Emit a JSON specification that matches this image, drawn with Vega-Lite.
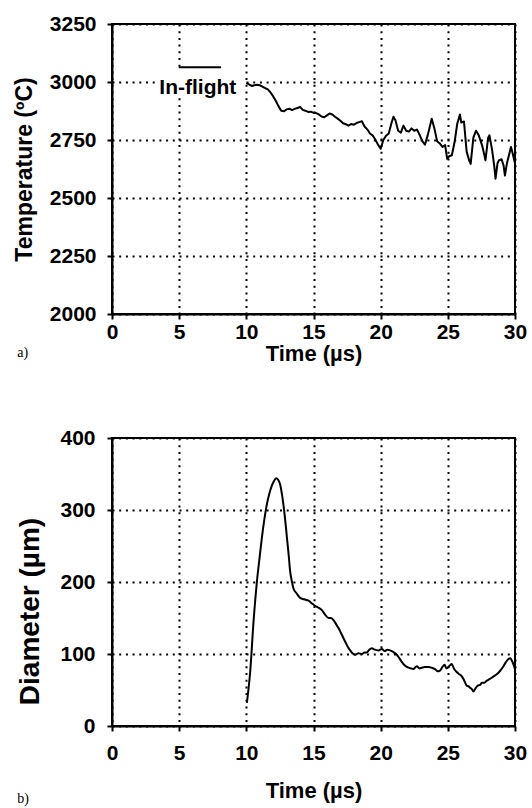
{
  "$schema": "https://vega.github.io/schema/vega-lite/v6.json",
  "background": "white",
  "padding": {"left": 12, "top": 12, "right": 4, "bottom": 0},
  "spacing": 61,
  "config": {
    "view": {"stroke": "black", "strokeWidth": 2},
    "font": "Liberation Sans",
    "axis": {
      "domainColor": "black",
      "domainWidth": 2,
      "tickColor": "black",
      "tickWidth": 2,
      "tickSize": 5,
      "labelFont": "Liberation Sans",
      "labelFontWeight": "bold",
      "labelFontSize": 21,
      "labelColor": "black",
      "labelFlush": false,
      "labelOverlap": false,
      "format": "d",
      "titleFont": "Liberation Sans",
      "titleFontWeight": "bold",
      "titleColor": "black",
      "gridColor": "black",
      "gridWidth": 2,
      "gridDash": [2, 4.7],
      "gridOpacity": 1
    }
  },
  "datasets": {
    "temperature": [
      {"time": 10.0, "temperature": 2995}, {"time": 10.2, "temperature": 2990}, {"time": 10.4, "temperature": 2983},
      {"time": 10.6, "temperature": 2986}, {"time": 10.8, "temperature": 2988}, {"time": 11.0, "temperature": 2986},
      {"time": 11.2, "temperature": 2980}, {"time": 11.4, "temperature": 2974}, {"time": 11.6, "temperature": 2968},
      {"time": 11.8, "temperature": 2955}, {"time": 12.0, "temperature": 2938}, {"time": 12.2, "temperature": 2918},
      {"time": 12.4, "temperature": 2895}, {"time": 12.6, "temperature": 2876}, {"time": 12.8, "temperature": 2874},
      {"time": 13.0, "temperature": 2882}, {"time": 13.2, "temperature": 2885}, {"time": 13.4, "temperature": 2879},
      {"time": 13.6, "temperature": 2884}, {"time": 13.8, "temperature": 2888}, {"time": 14.0, "temperature": 2892},
      {"time": 14.2, "temperature": 2880}, {"time": 14.4, "temperature": 2876}, {"time": 14.6, "temperature": 2871},
      {"time": 14.8, "temperature": 2872}, {"time": 15.0, "temperature": 2867}, {"time": 15.2, "temperature": 2866},
      {"time": 15.4, "temperature": 2860}, {"time": 15.6, "temperature": 2851}, {"time": 15.8, "temperature": 2848},
      {"time": 16.0, "temperature": 2856}, {"time": 16.2, "temperature": 2864}, {"time": 16.4, "temperature": 2860},
      {"time": 16.6, "temperature": 2850}, {"time": 16.8, "temperature": 2842}, {"time": 17.0, "temperature": 2833},
      {"time": 17.2, "temperature": 2822}, {"time": 17.4, "temperature": 2818}, {"time": 17.6, "temperature": 2812},
      {"time": 17.8, "temperature": 2819}, {"time": 18.0, "temperature": 2816}, {"time": 18.2, "temperature": 2823},
      {"time": 18.4, "temperature": 2827}, {"time": 18.6, "temperature": 2831}, {"time": 18.8, "temperature": 2808},
      {"time": 19.0, "temperature": 2796}, {"time": 19.2, "temperature": 2778}, {"time": 19.4, "temperature": 2770},
      {"time": 19.6, "temperature": 2752}, {"time": 19.8, "temperature": 2730}, {"time": 20.0, "temperature": 2712},
      {"time": 20.2, "temperature": 2750}, {"time": 20.4, "temperature": 2768}, {"time": 20.6, "temperature": 2778},
      {"time": 20.8, "temperature": 2822}, {"time": 20.95, "temperature": 2850}, {"time": 21.1, "temperature": 2835},
      {"time": 21.3, "temperature": 2790}, {"time": 21.5, "temperature": 2782}, {"time": 21.7, "temperature": 2812},
      {"time": 21.9, "temperature": 2790}, {"time": 22.1, "temperature": 2786}, {"time": 22.3, "temperature": 2800},
      {"time": 22.5, "temperature": 2790}, {"time": 22.7, "temperature": 2795}, {"time": 22.9, "temperature": 2772},
      {"time": 23.1, "temperature": 2745}, {"time": 23.3, "temperature": 2730}, {"time": 23.5, "temperature": 2770},
      {"time": 23.8, "temperature": 2842}, {"time": 24.0, "temperature": 2800}, {"time": 24.2, "temperature": 2745},
      {"time": 24.4, "temperature": 2735}, {"time": 24.6, "temperature": 2720}, {"time": 24.8, "temperature": 2728},
      {"time": 24.95, "temperature": 2669}, {"time": 25.1, "temperature": 2680}, {"time": 25.3, "temperature": 2684},
      {"time": 25.5, "temperature": 2740}, {"time": 25.7, "temperature": 2820}, {"time": 25.9, "temperature": 2860},
      {"time": 26.0, "temperature": 2825}, {"time": 26.2, "temperature": 2830}, {"time": 26.4, "temperature": 2700},
      {"time": 26.6, "temperature": 2660}, {"time": 26.7, "temperature": 2647}, {"time": 26.9, "temperature": 2760},
      {"time": 27.1, "temperature": 2790}, {"time": 27.3, "temperature": 2770}, {"time": 27.55, "temperature": 2727},
      {"time": 27.7, "temperature": 2690}, {"time": 27.8, "temperature": 2662}, {"time": 28.0, "temperature": 2760},
      {"time": 28.1, "temperature": 2770}, {"time": 28.3, "temperature": 2705}, {"time": 28.45, "temperature": 2640},
      {"time": 28.55, "temperature": 2583}, {"time": 28.7, "temperature": 2650}, {"time": 28.8, "temperature": 2662},
      {"time": 29.0, "temperature": 2667}, {"time": 29.15, "temperature": 2640}, {"time": 29.25, "temperature": 2597},
      {"time": 29.4, "temperature": 2650}, {"time": 29.55, "temperature": 2684}, {"time": 29.7, "temperature": 2720},
      {"time": 29.8, "temperature": 2698}, {"time": 30.0, "temperature": 2650}
    ],
    "diameter": [
      {"time": 10.04, "diameter": 32}, {"time": 10.29, "diameter": 76}, {"time": 10.54, "diameter": 146},
      {"time": 10.79, "diameter": 201}, {"time": 11.0, "diameter": 236}, {"time": 11.16, "diameter": 262},
      {"time": 11.35, "diameter": 288}, {"time": 11.53, "diameter": 308}, {"time": 11.7, "diameter": 322},
      {"time": 11.9, "diameter": 334}, {"time": 12.05, "diameter": 340}, {"time": 12.22, "diameter": 344},
      {"time": 12.4, "diameter": 341}, {"time": 12.52, "diameter": 335}, {"time": 12.65, "diameter": 322},
      {"time": 12.77, "diameter": 306}, {"time": 12.9, "diameter": 285}, {"time": 13.02, "diameter": 262},
      {"time": 13.15, "diameter": 238}, {"time": 13.26, "diameter": 215}, {"time": 13.4, "diameter": 200},
      {"time": 13.51, "diameter": 191}, {"time": 13.75, "diameter": 184}, {"time": 14.01, "diameter": 178},
      {"time": 14.3, "diameter": 176}, {"time": 14.63, "diameter": 174}, {"time": 14.9, "diameter": 170},
      {"time": 15.12, "diameter": 167}, {"time": 15.4, "diameter": 164}, {"time": 15.62, "diameter": 161},
      {"time": 15.85, "diameter": 155}, {"time": 16.12, "diameter": 150}, {"time": 16.3, "diameter": 150},
      {"time": 16.49, "diameter": 147}, {"time": 16.7, "diameter": 141}, {"time": 16.86, "diameter": 136},
      {"time": 17.1, "diameter": 127}, {"time": 17.36, "diameter": 117}, {"time": 17.55, "diameter": 110},
      {"time": 17.73, "diameter": 105}, {"time": 17.9, "diameter": 101}, {"time": 18.1, "diameter": 99},
      {"time": 18.35, "diameter": 101}, {"time": 18.6, "diameter": 100}, {"time": 18.8, "diameter": 102},
      {"time": 18.97, "diameter": 102}, {"time": 19.15, "diameter": 106}, {"time": 19.34, "diameter": 108},
      {"time": 19.55, "diameter": 106}, {"time": 19.84, "diameter": 105}, {"time": 20.09, "diameter": 107},
      {"time": 20.3, "diameter": 104}, {"time": 20.5, "diameter": 106}, {"time": 20.83, "diameter": 104},
      {"time": 21.0, "diameter": 102}, {"time": 21.2, "diameter": 99}, {"time": 21.4, "diameter": 94},
      {"time": 21.57, "diameter": 89}, {"time": 21.8, "diameter": 84}, {"time": 22.07, "diameter": 81},
      {"time": 22.25, "diameter": 80}, {"time": 22.44, "diameter": 79}, {"time": 22.6, "diameter": 82},
      {"time": 22.69, "diameter": 83}, {"time": 22.9, "diameter": 80}, {"time": 23.06, "diameter": 81},
      {"time": 23.3, "diameter": 82}, {"time": 23.56, "diameter": 82}, {"time": 23.8, "diameter": 81},
      {"time": 24.05, "diameter": 79}, {"time": 24.25, "diameter": 76}, {"time": 24.42, "diameter": 77},
      {"time": 24.6, "diameter": 82}, {"time": 24.75, "diameter": 85}, {"time": 24.9, "diameter": 80},
      {"time": 25.05, "diameter": 82}, {"time": 25.2, "diameter": 85}, {"time": 25.29, "diameter": 86},
      {"time": 25.45, "diameter": 80}, {"time": 25.66, "diameter": 75}, {"time": 25.85, "diameter": 72},
      {"time": 26.04, "diameter": 69}, {"time": 26.2, "diameter": 64}, {"time": 26.41, "diameter": 56},
      {"time": 26.55, "diameter": 55}, {"time": 26.66, "diameter": 53}, {"time": 26.8, "diameter": 51},
      {"time": 26.9, "diameter": 48}, {"time": 27.05, "diameter": 52}, {"time": 27.23, "diameter": 56},
      {"time": 27.4, "diameter": 57}, {"time": 27.52, "diameter": 60}, {"time": 27.7, "diameter": 60},
      {"time": 27.9, "diameter": 63}, {"time": 28.1, "diameter": 65}, {"time": 28.27, "diameter": 67},
      {"time": 28.5, "diameter": 70}, {"time": 28.77, "diameter": 74}, {"time": 28.95, "diameter": 78},
      {"time": 29.14, "diameter": 83}, {"time": 29.3, "diameter": 88}, {"time": 29.51, "diameter": 93},
      {"time": 29.65, "diameter": 94}, {"time": 29.76, "diameter": 91}, {"time": 29.9, "diameter": 85},
      {"time": 30.0, "diameter": 79}
    ]
  },
  "vconcat": [
    {
      "width": 403,
      "height": 290,
      "encoding": {
        "x": {
          "type": "quantitative",
          "scale": {"domain": [0, 30]},
          "axis": {
            "values": [0, 5, 10, 15, 20, 25, 30],
            "title": "Time (µs)",
            "titleFontSize": 22,
            "labelPadding": 2,
            "titlePadding": 1
          }
        },
        "y": {
          "type": "quantitative",
          "scale": {"domain": [2000, 3250]},
          "axis": {
            "values": [2000, 2250, 2500, 2750, 3000, 3250],
            "title": "Temperature (ºC)",
            "titleFontSize": 23,
            "labelPadding": 11,
            "titlePadding": 13
          }
        }
      },
      "layer": [
        {
          "data": {"values": [{"t0": 3.3, "t1": 9.75, "lo": 2932, "hi": 3050}]},
          "mark": {"type": "rect", "fill": "white"},
          "encoding": {
            "x": {"field": "t0"}, "x2": {"field": "t1"},
            "y": {"field": "lo"}, "y2": {"field": "hi"}
          }
        },
        {
          "data": {"name": "temperature"},
          "mark": {"type": "line", "color": "black", "strokeWidth": 2, "strokeJoin": "round"},
          "encoding": {"x": {"field": "time"}, "y": {"field": "temperature"}}
        },
        {
          "data": {"values": [{"t0": 4.97, "t1": 8.12, "level": 3064}]},
          "mark": {"type": "rule", "color": "black", "strokeWidth": 2},
          "encoding": {"x": {"field": "t0"}, "x2": {"field": "t1"}, "y": {"field": "level"}}
        },
        {
          "data": {"values": [{"time": 6.39, "temperature": 2949, "label": "In-flight"}]},
          "mark": {"type": "text", "font": "Liberation Sans", "fontWeight": "bold", "fontSize": 21, "color": "black", "align": "center", "baseline": "alphabetic"},
          "encoding": {"x": {"field": "time"}, "y": {"field": "temperature"}, "text": {"field": "label"}}
        },
        {
          "data": {"values": [{"time": -7.05, "temperature": 1830, "label": "a)"}]},
          "mark": {"type": "text", "font": "Liberation Serif", "fontSize": 14, "color": "black", "align": "left", "baseline": "middle"},
          "encoding": {"x": {"field": "time"}, "y": {"field": "temperature"}, "text": {"field": "label"}}
        }
      ]
    },
    {
      "width": 403,
      "height": 288,
      "encoding": {
        "x": {
          "type": "quantitative",
          "scale": {"domain": [0, 30]},
          "axis": {
            "values": [0, 5, 10, 15, 20, 25, 30],
            "title": "Time (µs)",
            "titleFontSize": 22,
            "labelPadding": 11,
            "titlePadding": 17
          }
        },
        "y": {
          "type": "quantitative",
          "scale": {"domain": [0, 400]},
          "axis": {
            "values": [0, 100, 200, 300, 400],
            "title": "Diameter (µm)",
            "titleFontSize": 28,
            "titleY": 173,
            "labelPadding": 12,
            "titlePadding": 15
          }
        }
      },
      "layer": [
        {
          "data": {"name": "diameter"},
          "mark": {"type": "line", "color": "black", "strokeWidth": 2, "strokeJoin": "round", "interpolate": "monotone"},
          "encoding": {"x": {"field": "time"}, "y": {"field": "diameter"}}
        },
        {
          "data": {"values": [{"time": -7.05, "diameter": -101, "label": "b)"}]},
          "mark": {"type": "text", "font": "Liberation Serif", "fontSize": 14, "color": "black", "align": "left", "baseline": "middle"},
          "encoding": {"x": {"field": "time"}, "y": {"field": "diameter"}, "text": {"field": "label"}}
        }
      ]
    }
  ]
}
